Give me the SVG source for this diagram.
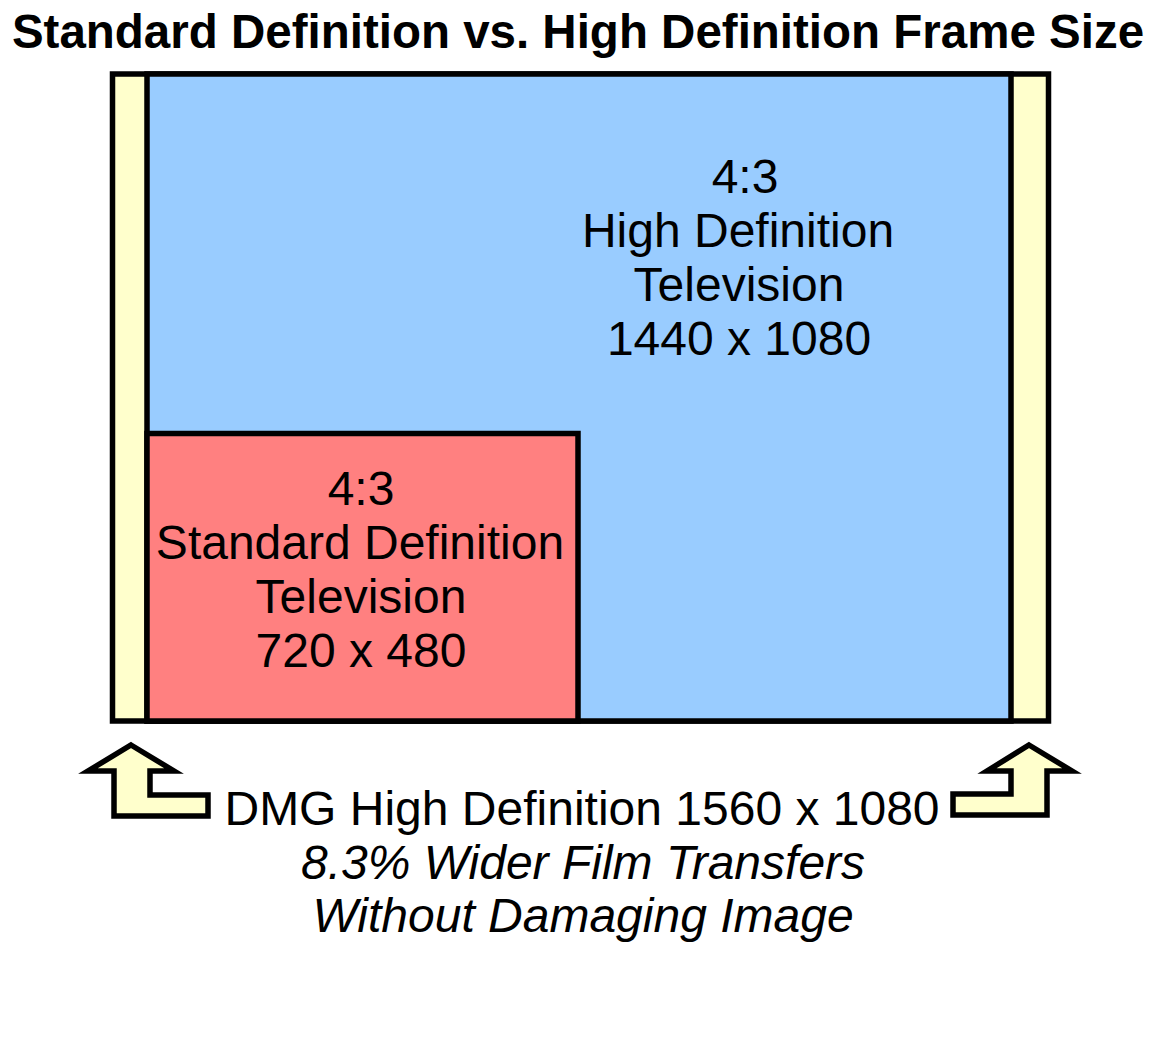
<svg xmlns="http://www.w3.org/2000/svg" width="1165" height="1048" viewBox="0 0 1165 1048">
<style>
.box{stroke:#000;stroke-width:5.5;stroke-linejoin:miter}
.yel{fill:#FFFFCC}
.blue{fill:#99CCFF}
.red{fill:#FF8080}
.t{font-family:"Liberation Sans",Arial,sans-serif;font-size:48px;fill:#000;text-anchor:middle}
.ti{font-style:italic}
.title{font-family:"Liberation Sans",Arial,sans-serif;font-size:47.5px;font-weight:bold;fill:#000;text-anchor:middle}
</style>
<rect width="1165" height="1048" fill="#fff"/>
<text class="title" x="578" y="48">Standard Definition vs. High Definition Frame Size</text>
<g id="dmg-frame">
<rect class="box yel" x="112.5" y="74" width="936" height="647"/>
</g>
<g id="hd-frame">
<rect class="box blue" x="147" y="74" width="864" height="647"/>
<text class="t" x="745" y="193">4:3</text>
<text class="t" x="738" y="247">High Definition</text>
<text class="t" x="739" y="301">Television</text>
<text class="t" x="739" y="355">1440 x 1080</text>
</g>
<g id="sd-frame">
<rect class="box red" x="147" y="433.5" width="431" height="287.5"/>
<text class="t" x="361" y="505">4:3</text>
<text class="t" x="360" y="559">Standard Definition</text>
<text class="t" x="361" y="613">Television</text>
<text class="t" x="361" y="667">720 x 480</text>
</g>
<g id="connectors">
<path class="box yel" d="M131,745 L174,771 L150,771 L150,795 L208,795 L208,816 L114,816 L114,771 L88,771 Z"/>
<path class="box yel" d="M1029,745 L1072,771 L1047,771 L1047,815 L953,815 L953,794 L1011,794 L1011,771 L987,771 Z"/>
</g>
<g id="caption">
<text class="t" x="582" y="825">DMG High Definition 1560 x 1080</text>
<text class="t ti" x="583" y="879">8.3% Wider Film Transfers</text>
<text class="t ti" x="583" y="932">Without Damaging Image</text>
</g>
</svg>
